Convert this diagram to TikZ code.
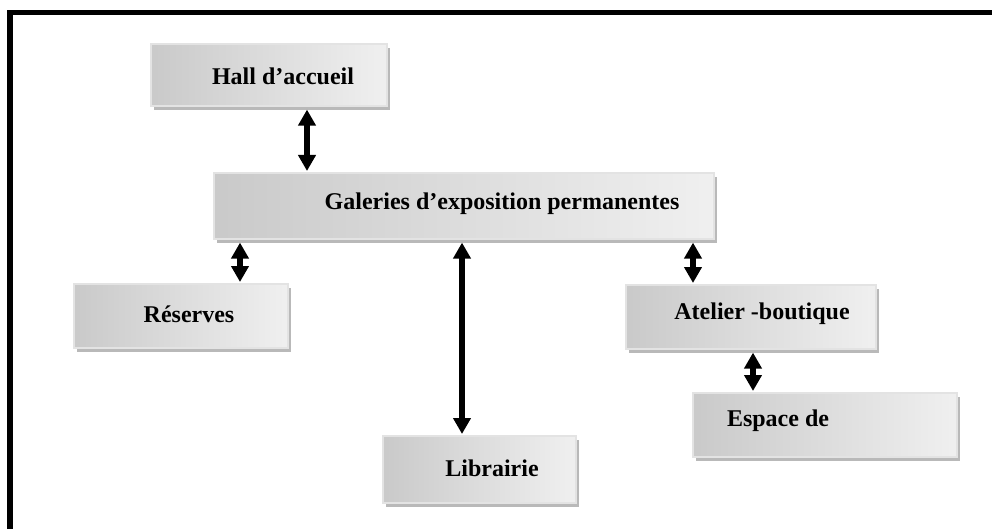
\documentclass[tikz,border=0pt]{standalone}
\usepackage{fontspec}
\setmainfont{Liberation Serif}
\usetikzlibrary{arrows.meta,shadows}
\tikzset{
  box/.style={anchor=north west, inner sep=0pt, draw=gray!22, line width=1.6pt,
    left color=gray!42, right color=gray!12,
    drop shadow={shadow xshift=3pt, shadow yshift=-4pt, fill=gray!55, opacity=1}},
  lbl/.style={font=\fontsize{24}{28}\selectfont\bfseries, inner sep=0pt},
  dblarr/.style={line width=5.5pt, {Triangle[length=16pt,width=17pt]}-{Triangle[length=16pt,width=17pt]}},
  frame/.style={line width=5.5pt}
}
\begin{document}
\begin{tikzpicture}[x=1pt,y=-1pt]
\useasboundingbox (0,0) rectangle (992,529);
\fill[white] (0,0) rectangle (992,529);
\draw[frame] (10,529) -- (10,12.5) -- (992,12.5);

\node[box, minimum width=236pt, minimum height=62pt] (hall) at (150,43) {};
\node[box, minimum width=500pt, minimum height=66pt] (gal) at (213,172) {};
\node[box, minimum width=214pt, minimum height=64pt] (res) at (73,283) {};
\node[box, minimum width=193pt, minimum height=67pt] (lib) at (382,435) {};
\node[box, minimum width=250pt, minimum height=64pt] (atel) at (625,284) {};
\node[box, minimum width=264pt, minimum height=64pt] (esp) at (692,392) {};

\node[lbl] (thall) at (283,76) {Hall d’accueil};
\node[lbl] (tgal) at (502,204) {Galeries d’exposition permanentes};
\node[lbl] (tres) at (189,314) {Réserves};
\node[lbl] (tatel) at (762,314) {Atelier -boutique};
\node[lbl] (tesp) at (778,421) {Espace de};
\node[lbl] (tlib) at (492,468) {Librairie};

\coordinate (xa) at (307,0);
\coordinate (xb) at (240,0);
\coordinate (xc) at (462,0);
\coordinate (xd) at (693,0);
\coordinate (xe) at (753,0);

\draw[dblarr] ([yshift=-3pt]hall.south -| xa) -- ([yshift=1pt]gal.north -| xa);
\draw[dblarr] ([yshift=-3pt]gal.south -| xb) -- ([yshift=1pt]res.north -| xb);
\draw[dblarr] ([yshift=-3pt]gal.south -| xc) -- ([yshift=1pt]lib.north -| xc);
\draw[dblarr] ([yshift=-3pt]gal.south -| xd) -- ([yshift=1pt]atel.north -| xd);
\draw[dblarr] ([yshift=-3pt]atel.south -| xe) -- ([yshift=1pt]esp.north -| xe);
\end{tikzpicture}
\end{document}
